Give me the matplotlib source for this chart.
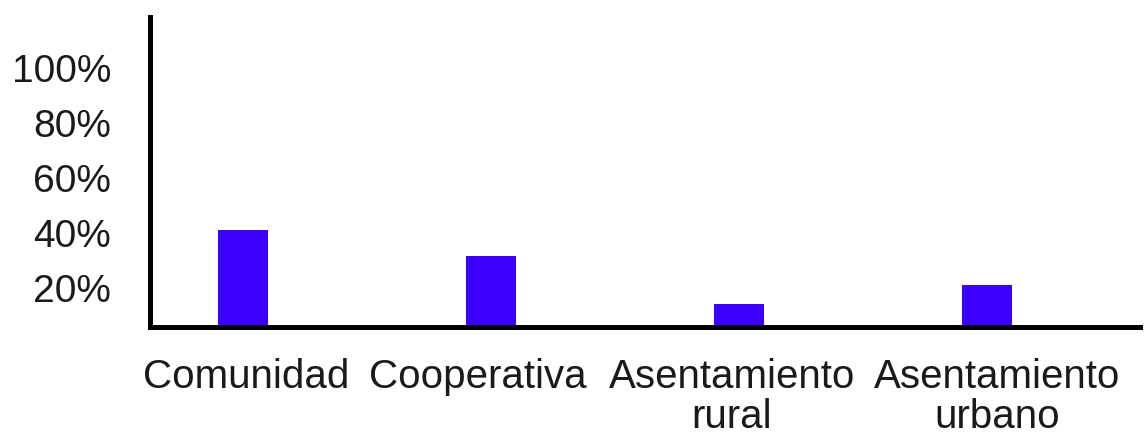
import matplotlib
matplotlib.use("Agg")
import matplotlib.pyplot as plt
import matplotlib.transforms as mtransforms

categories = ["Comunidad", "Cooperativa", "Asentamiento\nrural", "Asentamiento\nurbano"]
values = [35.3, 25.8, 8.4, 15.3]
tick_values = [20, 40, 60, 80, 100]
tick_labels = ["20%", "40%", "60%", "80%", "100%"]

plt.rcParams['font.family'] = ['Liberation Sans', 'DejaVu Sans']

fig = plt.figure(figsize=(11.48, 4.37), dpi=100)
ax = fig.add_axes([0.1307, 0.2517, 0.8623, 0.7093])

x = list(range(len(categories)))
ax.bar(x, values, width=0.2, color='#3c00ff', zorder=1)

ax.set_xlim(-0.374, 3.616)
ax.set_ylim(0, 112.7)

for side in ['top', 'right']:
    ax.spines[side].set_visible(False)
for side in ['left', 'bottom']:
    ax.spines[side].set_linewidth(3.6)
    ax.spines[side].set_color('black')
    ax.spines[side].set_zorder(3)

ax.set_xticks(x)
ax.set_xticklabels(categories, fontsize=29, color='#1a1a1a', linespacing=1.08)
ax.set_yticks(tick_values)
ax.set_yticklabels(tick_labels, fontsize=28, color='#1a1a1a')
ax.tick_params(axis='x', length=0, pad=22)
ax.tick_params(axis='y', length=0, pad=28)

# the y labels sit a bit below their gridline positions in the original
offset = mtransforms.ScaledTranslation(0, -16 / 100, fig.dpi_scale_trans)
for lbl in ax.get_yticklabels():
    lbl.set_transform(lbl.get_transform() + offset)

# x labels are nudged sideways so the long ones do not touch
nudges = [3, -13, -7, 10]
for lbl, dx in zip(ax.get_xticklabels(), nudges):
    lbl.set_transform(lbl.get_transform() +
                      mtransforms.ScaledTranslation(dx / 100, 0, fig.dpi_scale_trans))

plt.savefig("out.png", dpi=100)
